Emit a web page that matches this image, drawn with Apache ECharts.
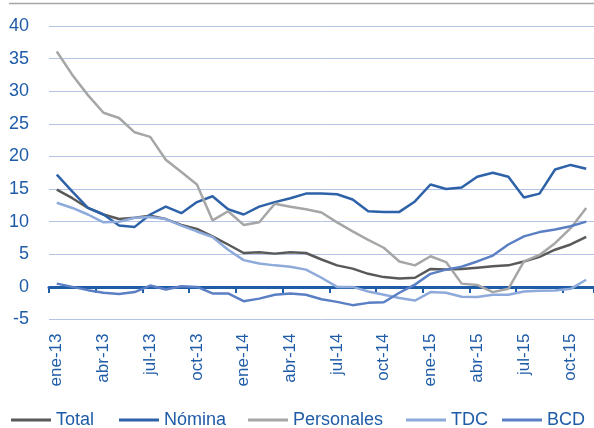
<!DOCTYPE html>
<html>
<head>
<meta charset="utf-8">
<script src="https://cdn.jsdelivr.net/npm/echarts@6/dist/echarts.min.js"></script>
<style>
html,body{margin:0;padding:0;background:#fff;}
#c{width:594px;height:428px;}
</style>
</head>
<body>
<div id="c"></div>
<script>
const months = ['ene','feb','mar','abr','may','jun','jul','ago','sep','oct','nov','dic'];
const categories = [];
['13','14','15'].forEach(y => months.forEach(m => categories.push(m + '-' + y)));
categories.length = 35; // ene-13 .. nov-15

const total = [14.9, 13.6, 12.1, 11.1, 10.4, 10.6, 10.9, 10.4, 9.5, 8.9, 7.75, 6.5, 5.2, 5.3, 5.1, 5.3, 5.2, 4.2, 3.3, 2.8, 2.0, 1.5, 1.3, 1.4, 2.75, 2.65, 2.75, 2.95, 3.15, 3.3, 3.9, 4.6, 5.7, 6.5, 7.65];
const nomina = [17.2, 14.6, 12.1, 11.1, 9.4, 9.2, 11.1, 12.3, 11.3, 13.0, 13.9, 11.9, 11.1, 12.3, 13.0, 13.6, 14.3, 14.3, 14.2, 13.4, 11.6, 11.5, 11.5, 13.1, 15.7, 15.0, 15.25, 16.9, 17.5, 16.9, 13.7, 14.3, 18.0, 18.7, 18.1];
const personales = [36.1, 32.5, 29.4, 26.7, 25.9, 23.7, 23.0, 19.5, 17.6, 15.7, 10.2, 11.6, 9.5, 9.9, 12.75, 12.3, 11.9, 11.4, 9.9, 8.5, 7.2, 6.0, 3.9, 3.3, 4.7, 3.8, 0.5, 0.3, -0.8, -0.3, 3.9, 4.9, 6.7, 9.0, 12.1];
const tdc = [12.9, 12.1, 11.1, 9.9, 10.0, 10.6, 10.7, 10.4, 9.4, 8.5, 7.65, 5.7, 4.1, 3.6, 3.3, 3.1, 2.65, 1.4, 0.0, 0.0, -0.7, -1.2, -1.7, -2.1, -0.8, -0.9, -1.5, -1.55, -1.2, -1.2, -0.7, -0.6, -0.55, -0.3, 1.1];
const bcd = [0.5, 0.0, -0.5, -0.9, -1.1, -0.8, 0.2, -0.4, 0.1, 0.0, -1.0, -1.0, -2.2, -1.8, -1.2, -1.0, -1.2, -1.9, -2.3, -2.8, -2.45, -2.35, -0.9, 0.35, 2.0, 2.65, 3.1, 3.9, 4.8, 6.5, 7.75, 8.4, 8.8, 9.3, 10.0];

const seriesNames = ['Total', 'Nómina', 'Personales', 'TDC', 'BCD'];
const seriesData = [total, nomina, personales, tdc, bcd];
const seriesColors = ['#595959', '#2e62a8', '#a6a6a6', '#8eaadb', '#5b7fc4'];
const legendLeft = [11, 119, 248, 406, 502];

const FONT = "'Liberation Sans', Arial, sans-serif";
const BLUE = '#1f5ca8';

const chart = echarts.init(document.getElementById('c'), null, {renderer: 'canvas'});
chart.setOption({
  animation: false,
  backgroundColor: '#ffffff',
  textStyle: {fontFamily: FONT},
  graphic: [{
    type: 'line',
    shape: {x1: 9, y1: 3.5, x2: 594, y2: 3.5},
    style: {stroke: '#a6a6a6', lineWidth: 1.5}
  }],
  grid: {left: 49, top: 26, width: 550, height: 293.5},
  legend: seriesNames.map((n, i) => ({
    data: [{name: n, icon: 'rect'}],
    left: legendLeft[i],
    top: 411,
    padding: 0,
    itemWidth: 40,
    itemHeight: 3,
    itemStyle: {borderWidth: 0},
    textStyle: {fontFamily: FONT, fontSize: 18, color: BLUE}
  })),
  xAxis: [{
    type: 'category',
    data: categories,
    position: 'bottom',
    boundaryGap: true,
    axisLine: {show: false, onZero: false},
    axisTick: {show: false},
    axisLabel: {
      interval: 2, rotate: 90, margin: 14,
      fontFamily: FONT, fontSize: 17, color: BLUE
    },
    splitLine: {show: false}
  }, {
    type: 'category',
    data: categories,
    position: 'top',
    boundaryGap: true,
    axisLine: {show: true, onZero: true, lineStyle: {color: '#1f5ca8', width: 3}},
    axisTick: {show: true, interval: 2, inside: true, length: 6, lineStyle: {color: '#1f5ca8', width: 2}},
    axisLabel: {show: false},
    splitLine: {show: false}
  }],
  yAxis: {
    type: 'value',
    min: -5, max: 40, interval: 5,
    axisLine: {show: false},
    axisTick: {show: false},
    axisLabel: {margin: 20, fontFamily: FONT, fontSize: 18, color: BLUE},
    splitLine: {lineStyle: {color: '#b4c3e3', width: 1}}
  },
  series: seriesNames.map((n, i) => ({
    name: n,
    type: 'line',
    xAxisIndex: 0,
    data: seriesData[i],
    symbol: 'none',
    smooth: false,
    lineStyle: {color: seriesColors[i], width: 2.5},
    itemStyle: {color: seriesColors[i]}
  }))
});
</script>
</body>
</html>
